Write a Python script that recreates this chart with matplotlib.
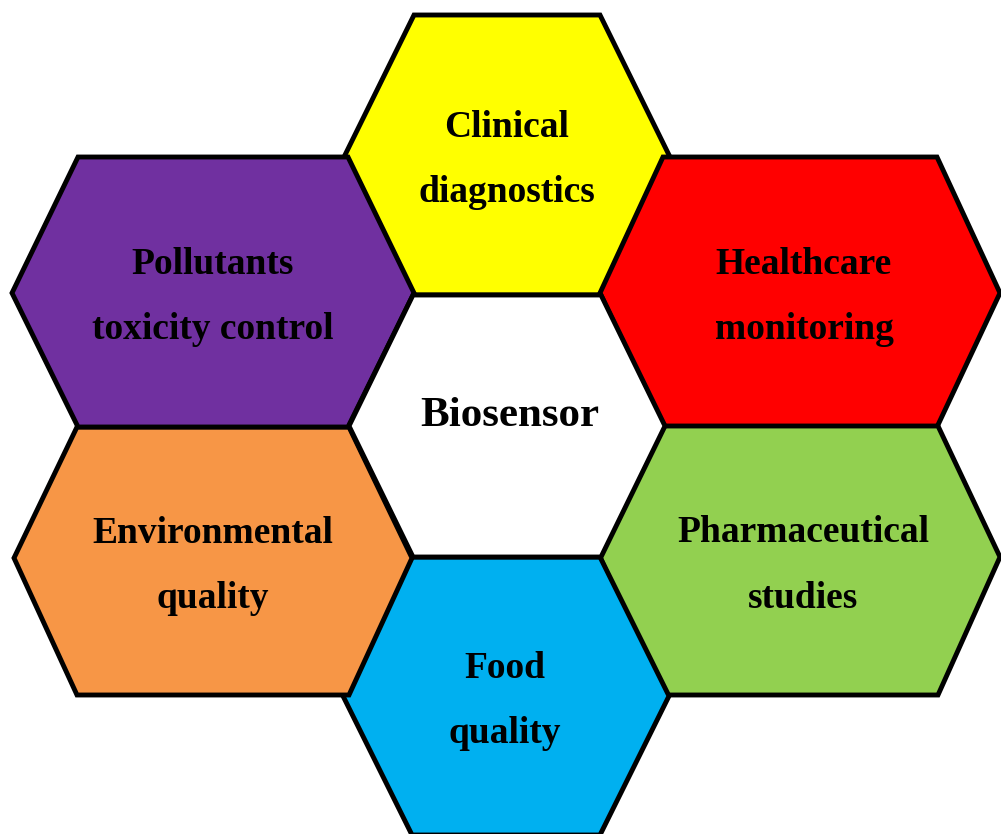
import matplotlib.pyplot as plt
from matplotlib.patches import Polygon

plt.rcParams['font.family'] = ['Liberation Serif', 'DejaVu Serif']

# labels and colours of the seven cells (centre cell last so its outline sits on top)
labels = [
    ['Clinical', 'diagnostics'],
    ['Healthcare', 'monitoring'],
    ['Pharmaceutical', 'studies'],
    ['Food', 'quality'],
    ['Environmental', 'quality'],
    ['Pollutants', 'toxicity control'],
    ['Biosensor'],
]
colors = ['#FFFF00', '#FF0000', '#92D050', '#00B0F0', '#F79646', '#7030A0', '#FFFFFF']

# hexagon geometry in pixel space
cx = [507, 800, 800, 506, 213, 213, 507]
half_w = [162, 200, 200, 163, 199, 201, 158]
half_top = [93, 137, 138, 94, 136, 135, 94]
top_y = [15, 157, 426, 557, 427, 157, 295]
bot_y = [295, 427, 695, 835, 695, 427, 557]
mid_y = [155, 293, 557, 696, 558, 293, 426]
text_x = [507, 804, 803, 505, 213, 213, 510]
font_sizes = [27, 27, 27, 27, 27, 27, 31]

fig = plt.figure(figsize=(10.01, 8.34), dpi=100)
ax = fig.add_axes([0, 0, 1, 1])
ax.set_xlim(0, 1001)
ax.set_ylim(834, 0)
ax.axis('off')

for i in range(len(labels)):
    x, a, b = cx[i], half_w[i], half_top[i]
    verts = [(x - b, top_y[i]), (x + b, top_y[i]), (x + a, mid_y[i]),
             (x + b, bot_y[i]), (x - b, bot_y[i]), (x - a, mid_y[i])]
    ax.add_patch(Polygon(verts, closed=True, facecolor=colors[i],
                         edgecolor='black', linewidth=3.5, joinstyle='miter'))
    lines = labels[i]
    yc = (top_y[i] + bot_y[i]) / 2
    if len(lines) == 1:
        baselines = [yc]
    else:
        baselines = [yc - 18 + 65 * k for k in range(len(lines))]
    for line, yb in zip(lines, baselines):
        ax.text(text_x[i], yb, line, ha='center', va='baseline',
                fontsize=font_sizes[i], fontweight='bold', color='black')

fig.savefig('out.png', dpi=100)
